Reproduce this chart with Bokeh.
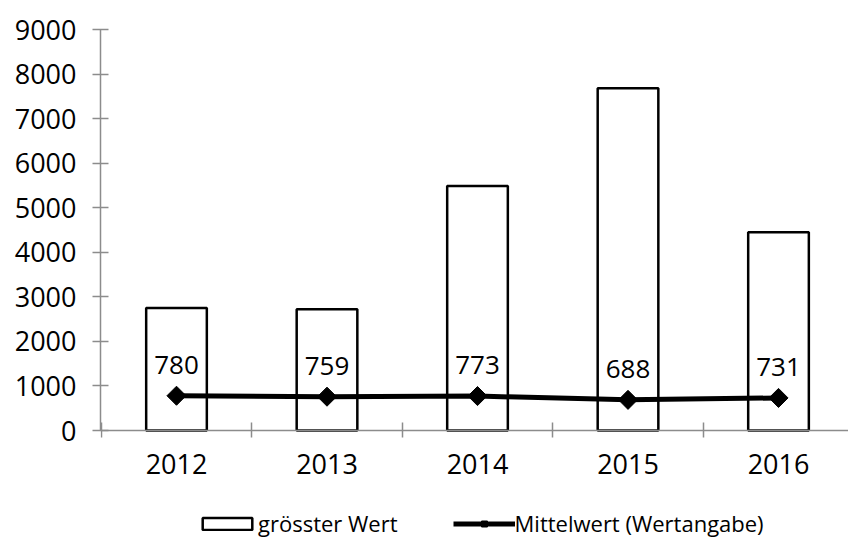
import math
from bokeh.plotting import figure
from bokeh.models import Range1d, FixedTicker, Legend, LegendItem, ColumnDataSource, LabelSet
from bokeh.core.properties import value
from bokeh.embed import file_html
from bokeh.resources import INLINE

years = ["2012", "2013", "2014", "2015", "2016"]
max_values = [2750, 2720, 5490, 7680, 4450]
mean_values = [780, 759, 773, 688, 731]
y_ticks = [0, 1000, 2000, 3000, 4000, 5000, 6000, 7000, 8000, 9000]

xs = list(range(len(years)))
src = ColumnDataSource(dict(x=xs, maxv=max_values, meanv=mean_values,
                            lab=[str(v) for v in mean_values]))

FONT = "Open Sans"
W, H = 848, 541
top_px, zero_px = 29, 430
ppu = (zero_px - top_px) / 9000.0
ymin = -(H - zero_px) / ppu

p = figure(width=W, height=H, output_backend="svg", toolbar_location=None,
           x_range=Range1d(-0.505, 4.465), y_range=Range1d(ymin, 9000),
           min_border_left=100, min_border_right=0, min_border_top=top_px, min_border_bottom=0)
p.outline_line_color = None
p.grid.grid_line_color = None
p.background_fill_color = "white"

bars = p.vbar(x="x", top="maxv", width=0.403, bottom=0, source=src,
              fill_color="white", line_color="black", line_width=2.5)
ln = p.line(x="x", y="meanv", source=src, line_color="black", line_width=5)
mk = p.scatter(x="x", y="meanv", source=src, marker="square", size=13.5, angle=math.pi / 4,
               fill_color="black", line_color="black")

labels = LabelSet(x="x", y="meanv", text="lab", source=src, y_offset=31,
                  text_align="center", text_baseline="middle",
                  text_font=value(FONT), text_font_size=value("26px"), text_color="black")
p.add_layout(labels)

# x axis drawn at y=0 inside the frame
xa = p.xaxis[0]
xa.fixed_location = 0
xa.ticker = FixedTicker(ticks=xs, minor_ticks=[-0.5, 0.5, 1.5, 2.5, 3.5, 4.5])
xa.major_label_overrides = {i: y for i, y in enumerate(years)}
xa.major_tick_line_color = None
xa.major_tick_in = 0
xa.major_tick_out = 0
xa.minor_tick_in = 8
xa.minor_tick_out = 7
xa.minor_tick_line_color = "#8c8c8c"
xa.minor_tick_line_width = 1.5
xa.axis_line_color = "#8c8c8c"
xa.axis_line_width = 1.5
xa.major_label_standoff = 16
xa.major_label_text_font = FONT
xa.major_label_text_font_size = "27px"
xa.major_label_text_color = "black"

ya = p.yaxis[0]
ya.bounds = (0, 9000)
ya.ticker = FixedTicker(ticks=y_ticks)
ya.minor_tick_line_color = None
ya.major_tick_in = 8
ya.major_tick_out = 8
ya.major_tick_line_color = "#8c8c8c"
ya.major_tick_line_width = 1.5
ya.axis_line_color = "#8c8c8c"
ya.axis_line_width = 1.5
ya.major_label_standoff = 16
ya.major_label_text_font = FONT
ya.major_label_text_font_size = "27px"
ya.major_label_text_color = "black"

legend = Legend(items=[LegendItem(label="grösster Wert", renderers=[bars]),
                       LegendItem(label="Mittelwert (Wertangabe)", renderers=[ln, mk])],
                orientation="horizontal", location=(96, 3),
                glyph_width=62, glyph_height=15, label_standoff=0, spacing=55,
                padding=0, margin=0, border_line_color=None, background_fill_alpha=0,
                label_text_font=FONT, label_text_font_size="22px", label_text_color="black")
p.add_layout(legend, "center")

open("out.html", "w").write(file_html(p, INLINE))
